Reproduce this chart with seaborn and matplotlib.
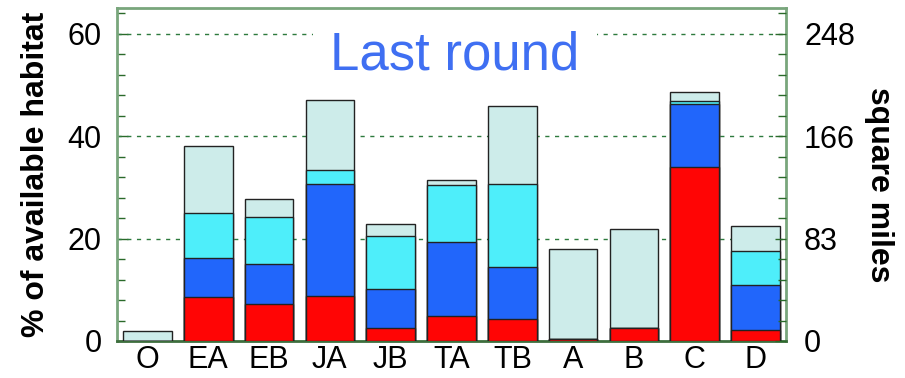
import numpy as np
import pandas as pd
import matplotlib
matplotlib.use("Agg")
import matplotlib.pyplot as plt
import seaborn as sns

# Habitat categories and the four stacked layers (% of available habitat)
categories = ["O", "EA", "EB", "JA", "JB", "TA", "TB", "A", "B", "C", "D"]
red_layer = [0.0, 8.6, 7.2, 8.8, 2.5, 4.9, 4.3, 0.3, 2.5, 34.0, 2.1]
blue_layer = [0.0, 7.6, 7.8, 21.9, 7.6, 14.4, 10.2, 0.0, 0.0, 12.3, 8.9]
cyan_layer = [0.0, 8.8, 9.2, 2.7, 10.4, 11.2, 16.1, 0.0, 0.0, 0.5, 6.5]
pale_layer = [2.0, 13.0, 3.5, 13.7, 2.4, 1.0, 15.3, 17.6, 19.4, 1.8, 5.0]

left_ticks = [0, 20, 40, 60]
right_tick_labels = ["0", "83", "166", "248"]
title_text = "Last round"

sns.set_style("white")
plt.rcParams["font.family"] = ["Liberation Sans", "DejaVu Sans"]

df = pd.DataFrame({
    "cat": categories,
    "red": red_layer,
    "blue": blue_layer,
    "cyan": cyan_layer,
    "pale": pale_layer,
})
df["c_red"] = df["red"]
df["c_blue"] = df["c_red"] + df["blue"]
df["c_cyan"] = df["c_blue"] + df["cyan"]
df["c_pale"] = df["c_cyan"] + df["pale"]

fig = plt.figure(figsize=(9.05, 3.78), dpi=100)
ax = fig.add_axes([117 / 905, 1 - 341 / 378, (786 - 117) / 905, (341 - 8) / 378])

# Draw cumulative totals from tallest to shortest so the layers stack
layers = [("c_pale", "#cdecea"), ("c_cyan", "#4eeefa"),
          ("c_blue", "#2166fb"), ("c_red", "#ff0505")]
for col, colr in layers:
    sns.barplot(data=df, x="cat", y=col, order=categories, color=colr,
                saturation=1, width=0.8, edgecolor="#222222", linewidth=1.0,
                ax=ax, zorder=3)

ax.set_xlim(-0.5, len(categories) - 0.5)
ax.set_ylim(0, 65)
ax.set_yticks(left_ticks)
ax.set_yticklabels([str(t) for t in left_ticks])
ax.set_yticks(np.arange(0, 65, 4), minor=True)
ax.set_xlabel("")
ax.set_ylabel("% of available habitat", fontsize=23, fontweight="bold",
              color="black", labelpad=12)

grid_green = "#2d7a3d"
for t in left_ticks[1:]:
    ax.axhline(t, color=grid_green, lw=1.0, ls=(0, (3, 4)), zorder=1)

spine_green = "#79a67c"
for side in ["left", "right", "top"]:
    ax.spines[side].set_color(spine_green)
    ax.spines[side].set_linewidth(2)
ax.spines["bottom"].set_color("#3d6e3d")
ax.spines["bottom"].set_linewidth(2)

ax.tick_params(axis="y", which="both", direction="in", colors="#2a6a2a",
               labelcolor="black", labelsize=22, pad=11)
ax.tick_params(axis="y", which="major", length=8, width=1)
ax.tick_params(axis="y", which="minor", length=6, width=1)
ax.tick_params(axis="x", length=0, labelsize=22, labelcolor="black", pad=3)

# Right-hand axis in square miles sharing the same scale
ax2 = ax.twinx()
ax2.set_ylim(ax.get_ylim())
ax2.set_yticks(left_ticks)
ax2.set_yticklabels(right_tick_labels)
ax2.set_yticks(np.arange(0, 65, 4), minor=True)
for s in ax2.spines.values():
    s.set_visible(False)
ax2.tick_params(axis="y", which="both", direction="in", colors="#2a6a2a",
                labelcolor="black", labelsize=22, pad=13)
ax2.tick_params(axis="y", which="major", length=8, width=1)
ax2.tick_params(axis="y", which="minor", length=6, width=1)
ax2.set_ylabel("square miles", fontsize=23, fontweight="bold",
               color="black", rotation=-90, labelpad=28)
ax2.yaxis.label.set_y(0.47)

fig.text(455 / 905, 1 - 70 / 378, title_text, ha="center", va="baseline",
         fontsize=38, color="#3f6ff2",
         bbox=dict(facecolor="white", edgecolor="none", pad=12), zorder=10)

fig.savefig("out.png", dpi=100)
